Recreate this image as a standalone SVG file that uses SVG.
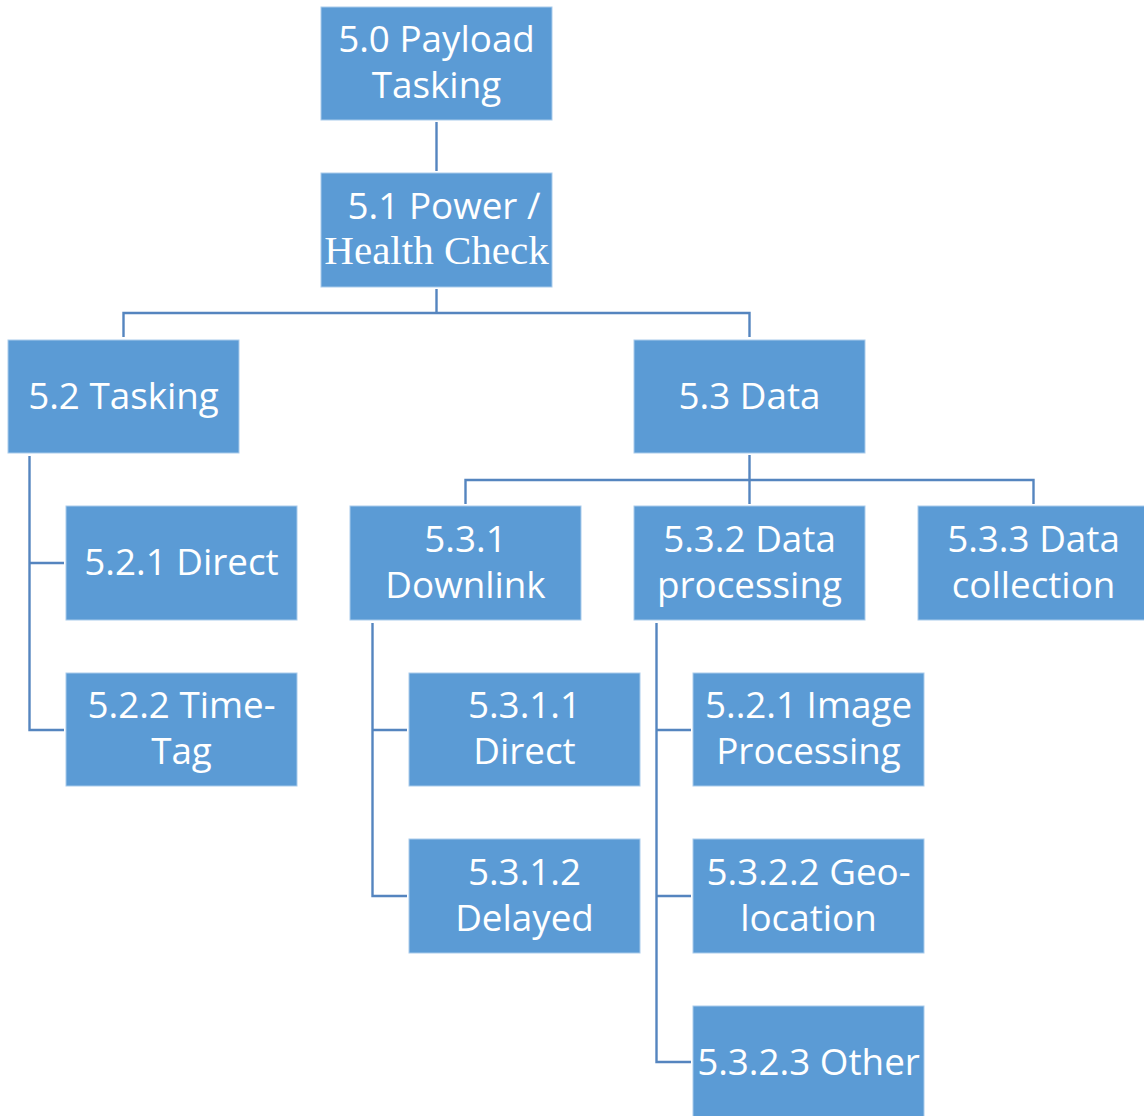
<svg xmlns="http://www.w3.org/2000/svg" width="1144" height="1116" viewBox="0 0 1144 1116">
  <style>
    .box { fill: #5B9BD5; stroke: #A9CBEB; stroke-width: 1; }
    .lbl { fill: #FFFFFF; font-family: "Open Sans", "Noto Sans", "Liberation Sans", sans-serif; font-size: 36.8px; text-anchor: middle; }
    .serif { font-family: "Liberation Serif", "DejaVu Serif", serif; font-size: 41px; }
    .wire { fill: none; stroke: #5585BF; stroke-width: 2.4; }
  </style>
  <rect width="1144" height="1116" fill="#FFFFFF"/>

  <g id="connectors">
    <path class="wire" d="M436.5,122 V171"/>
    <path class="wire" d="M436.5,289 V313 M123.5,337 V313 H749.5 V337"/>
    <path class="wire" d="M749.5,455 V480 M465.5,504 V480 H1033.5 V504 M749.5,480 V504"/>
    <path class="wire" d="M29.5,456 V730 H64 M29.5,563 H64"/>
    <path class="wire" d="M372.5,623 V896 H407 M372.5,730 H407"/>
    <path class="wire" d="M656.5,623 V1062 H691 M656.5,730 H691 M656.5,896 H691"/>
  </g>

  <g id="n50">
    <rect class="box" x="321" y="7" width="231" height="113"/>
    <text class="lbl" x="436.5" y="52">5.0 Payload</text>
    <text class="lbl" x="436.5" y="98">Tasking</text>
  </g>
  <g id="n51">
    <rect class="box" x="321" y="173" width="231" height="114"/>
    <text class="lbl" x="444" y="219">5.1 Power ∕</text>
    <text class="lbl serif" x="436.5" y="264">Health Check</text>
  </g>
  <g id="n52">
    <rect class="box" x="8" y="340" width="231" height="113"/>
    <text class="lbl" x="123.5" y="409">5.2 Tasking</text>
  </g>
  <g id="n53">
    <rect class="box" x="634" y="340" width="231" height="113"/>
    <text class="lbl" x="749.5" y="409">5.3 Data</text>
  </g>
  <g id="n521">
    <rect class="box" x="66" y="506" width="231" height="114"/>
    <text class="lbl" x="181.5" y="575">5.2.1 Direct</text>
  </g>
  <g id="n522">
    <rect class="box" x="66" y="673" width="231" height="113"/>
    <text class="lbl" x="181.5" y="718">5.2.2 Time-</text>
    <text class="lbl" x="181.5" y="764">Tag</text>
  </g>
  <g id="n531">
    <rect class="box" x="350" y="506" width="231" height="114"/>
    <text class="lbl" x="465.5" y="552">5.3.1</text>
    <text class="lbl" x="465.5" y="598">Downlink</text>
  </g>
  <g id="n532">
    <rect class="box" x="634" y="506" width="231" height="114"/>
    <text class="lbl" x="749.5" y="552">5.3.2 Data</text>
    <text class="lbl" x="749.5" y="598">processing</text>
  </g>
  <g id="n533">
    <rect class="box" x="918" y="506" width="231" height="114"/>
    <text class="lbl" x="1033.5" y="552">5.3.3 Data</text>
    <text class="lbl" x="1033.5" y="598">collection</text>
  </g>
  <g id="n5311">
    <rect class="box" x="409" y="673" width="231" height="113"/>
    <text class="lbl" x="524.5" y="718">5.3.1.1</text>
    <text class="lbl" x="524.5" y="764">Direct</text>
  </g>
  <g id="n5312">
    <rect class="box" x="409" y="839" width="231" height="114"/>
    <text class="lbl" x="524.5" y="885">5.3.1.2</text>
    <text class="lbl" x="524.5" y="931">Delayed</text>
  </g>
  <g id="n5321">
    <rect class="box" x="693" y="673" width="231" height="113"/>
    <text class="lbl" x="808.5" y="718">5..2.1 Image</text>
    <text class="lbl" x="808.5" y="764">Processing</text>
  </g>
  <g id="n5322">
    <rect class="box" x="693" y="839" width="231" height="114"/>
    <text class="lbl" x="808.5" y="885">5.3.2.2 Geo-</text>
    <text class="lbl" x="808.5" y="931">location</text>
  </g>
  <g id="n5323">
    <rect class="box" x="693" y="1006" width="231" height="120"/>
    <text class="lbl" x="808.5" y="1075">5.3.2.3 Other</text>
  </g>
</svg>
